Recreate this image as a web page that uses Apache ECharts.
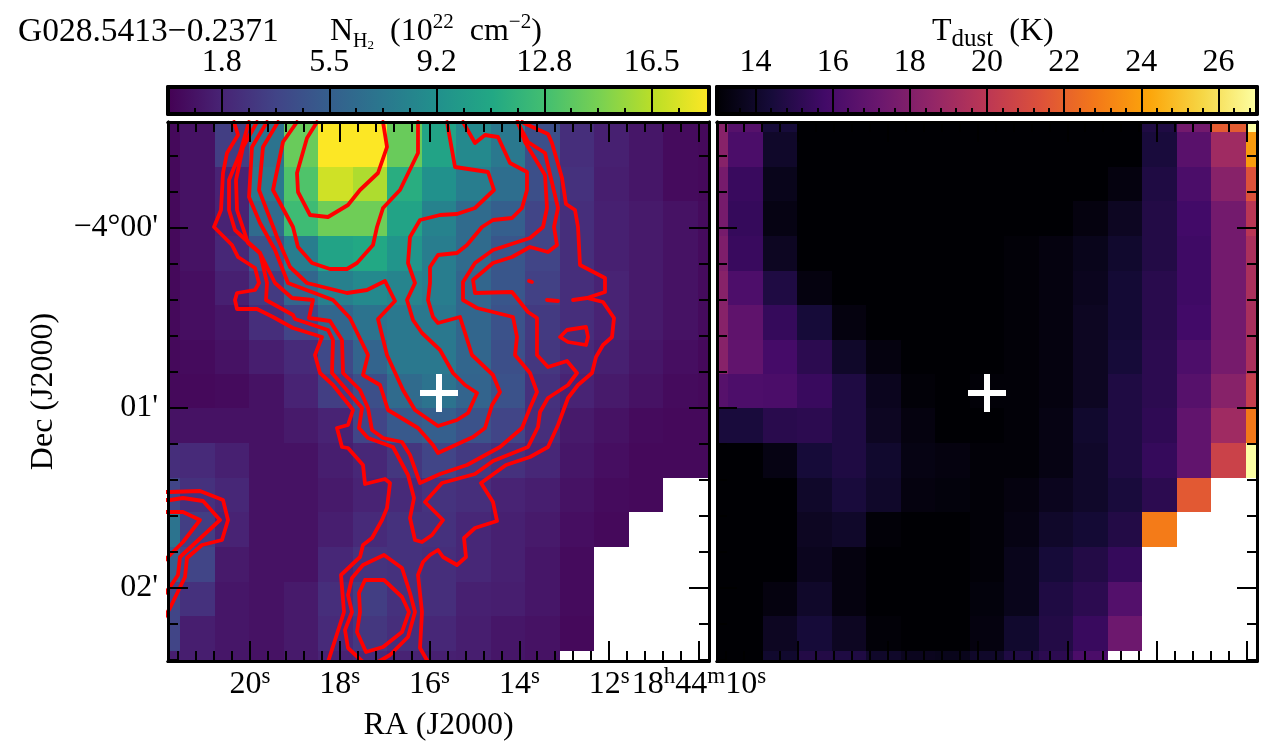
<!DOCTYPE html>
<html><head><meta charset="utf-8">
<style>html,body{margin:0;padding:0;background:#fff}#c{width:1272px;height:753px}</style>
<script src="https://cdn.jsdelivr.net/npm/echarts@6/dist/echarts.min.js"></script>
</head><body><div id="c"></div>
<script>
// Sky offsets are in units of 1/3 arcsec from RA 18h44m20s, Dec -04d00m (x grows to the west, y to the north).
const raEdges  = [-82,-70,-35,-1,34,68,103,137,172,206,241,275,310,344,379,413,448,459];
const decEdges = [106,96,61,27,-8,-43,-77,-112,-146,-180,-215,-250,-284,-319,-354,-388,-423,-433];
const _ = null;
const nh2 = [
 [.4,.9,3.3,7,14.1,18.3,18.3,14.1,10.6,8.6,7.3,4.4,2.4,1.6,1.1,.5,.4],
 [.4,.9,3.3,7,14.1,18.3,18.3,14.1,10.6,8.6,7.3,4.4,2.4,1.6,1.1,.5,.4],
 [.4,.9,1.8,7.3,13.2,17,16.1,11.4,9.2,7.7,6.6,4.4,2.6,1.5,1.1,.5,.4],
 [.4,.9,1.8,6.4,12.5,14.3,14.3,10.6,8.1,6.4,5.5,3.7,2.4,1.6,1.3,.9,.5],
 [.4,.9,2,4.6,7.7,10.6,11,9.5,7.7,6.4,4.9,3.7,2.4,1.6,1.3,.9,.5],
 [.4,.7,1.6,3.1,6,7.9,8.6,8.2,7.7,6,4.9,3.5,2.4,1.8,1.3,.9,.5],
 [.4,.7,1.1,2.4,3.7,6,7,7.3,7.3,6,4.6,3.1,2.4,1.8,1.3,.9,.5],
 [.4,.5,.9,1.5,2.2,4,5.9,7.3,7.3,6,4.4,2.9,2.2,1.6,1.1,.7,.4],
 [.4,.4,.5,.9,1.8,3.3,4.4,6.4,7,5.9,4.6,2.6,1.8,1.3,.9,.5,.4],
 [.9,.9,.9,.9,1.3,1.8,3.7,5.1,5.5,4.6,3.7,2.4,1.3,.9,.5,.4,.4],
 [2.4,2.2,1.6,.9,.9,1.5,2,2.9,3.7,3.1,2.6,2,1.1,.7,.4,.4,.4],
 [3.7,2.6,2,.9,.9,1.3,1.8,2.2,2.7,2.4,1.8,1.5,.9,.5,.4,_,_],
 [7,3.3,1.8,.9,.9,1.5,2.2,2.6,2.6,2,1.6,1.3,.7,.4,_,_,_],
 [5.5,3.7,1.3,.9,.9,2,2.7,2.6,2.4,2,1.6,1.1,.5,_,_,_,_],
 [3.7,2.6,1.1,.9,1.3,2.4,3.3,2.6,2.4,1.6,1.5,1.1,.5,_,_,_,_],
 [3.7,1.5,1.1,.9,1.3,2.2,2.9,2.4,2,1.5,1.1,.9,.4,_,_,_,_],
 [1.5,1.5,1.1,.9,1.3,1.8,2.2,1.8,1.6,1.5,1.1,.9,_,_,_,_,_]
];
const tdust = [
 [18.2,16.5,14.4,13,13,13,13,13,13,13,13,13,13,14.7,17.5,21.8,27],
 [18.2,16.1,14,13,13,13,13,13,13,13,13,13,13,14.5,16.6,19,23.9],
 [17.6,15.5,13.6,13,13,13,13,13,13,13,13,13,13.3,14.7,16.1,18.2,21.4],
 [17.6,15.4,13.4,13,13,13,13,13,13,13,13,13.3,13.8,14.8,15.8,17.5,19.9],
 [17.9,15.5,13.8,13,13,13,13,13,13,13.1,13.3,13.6,14.1,14.8,15.7,17.5,19.4],
 [18.2,16.2,14.7,13.3,13,13,13,13,13,13.1,13.3,13.7,14.3,15,15.7,17.5,19.4],
 [18.2,16.8,15.4,14.4,13.3,13,13,13,13,13.1,13.3,13.8,14.3,15,15.8,17.5,19.3],
 [18.2,16.9,15.9,15.1,14,13.3,13,13,13,13.1,13.3,13.8,14.4,15.1,16.2,17.6,19.4],
 [16.5,16.2,16.1,15.5,14.7,13.7,13.1,13,13.1,13.1,13.3,13.8,14.7,15.1,16.5,18.2,20.4],
 [14.5,14.5,15,15.1,14.7,13.8,13.3,13,13,13.1,13.4,14.1,14.7,15.2,16.9,19,22.8],
 [13,13,13.4,14.4,14.7,14.1,13.4,13.3,13.1,13.1,13.4,14,14.7,15.4,16.9,20.6,27],
 [13,13,13,14,14.5,14,13.3,13.2,13.1,13.3,13.7,14,14.5,15.1,21.7,_,_],
 [13,13,13,13.8,14,13.1,13,13,13.1,13.4,14,14.3,14.8,22.9,_,_,_],
 [13,13,13,13.7,13.3,13,13,13,13.1,13.6,14.4,14.8,15.4,_,_,_,_],
 [13,13,13.3,14,13.3,13,13,13,13.2,13.6,14.7,15.1,16.4,_,_,_,_],
 [13,13,13.8,14.4,13.8,13.1,13,13,13.3,14.1,14.8,15.5,17.3,_,_,_,_],
 [13,13,14.1,14.8,14.7,14,13.7,13.6,14,14.7,15.1,16.1,_,_,_,_,_]
];
const level1a = [[-16,106],[-12,93],[-23,75],[-27,55],[-29,18],[-36,1],[-18,-17],[-12,-29],[5,-40],[9,-55],[5,-62],[-13,-65],[-15,-72],[-13,-81],[7,-81],[23,-89],[43,-100],[72,-109],[65,-127],[70,-145],[83,-157],[103,-182],[98,-197],[87,-200],[92,-219],[98,-220],[113,-237],[115,-256],[135,-251],[140,-255],[137,-280],[132,-292],[122,-310],[113,-317],[110,-329],[91,-347],[94,-384],[78,-434]];
const level1b = [[178,-434],[170,-420],[172,-384],[168,-347],[173,-334],[180,-327],[188,-322],[193,-329],[207,-337],[216,-329],[214,-310],[225,-300],[247,-293],[243,-274],[231,-255],[256,-237],[280,-229],[298,-219],[308,-197],[318,-170],[328,-157],[342,-145],[346,-129],[353,-117],[362,-109],[364,-90],[353,-74],[337,-70],[355,-64],[355,-50],[330,-37],[328,1],[325,18],[316,24],[312,50],[302,85],[298,94],[278,103],[272,106]];
const level1c = [[310,-109],[317,-102],[336,-99],[338,-109],[336,-117],[318,-114],[310,-109]];
const level1d = [[279,-53],[282,-54]];
const level1e = [[297,-72],[308,-73]];
const level1f = [[323,-72],[337,-70]];
const level2 = [[-1,106],[-10,75],[-21,48],[-21,18],[-15,-2],[10,-25],[17,-55],[16,-72],[43,-87],[45,-91],[78,-102],[83,-112],[82,-145],[95,-160],[112,-180],[109,-200],[118,-210],[143,-219],[158,-247],[164,-270],[160,-290],[165,-312],[172,-314],[182,-307],[193,-292],[175,-274],[192,-255],[225,-246],[243,-233],[278,-219],[288,-199],[290,-184],[298,-170],[318,-157],[327,-145],[317,-133],[298,-139],[287,-127],[287,-90],[278,-84],[262,-64],[225,-65],[223,-52],[243,-35],[262,-29],[280,-19],[298,-24],[307,-17],[304,1],[308,20],[295,75],[278,86],[270,101],[267,106]];
const level3 = [[7,106],[-7,81],[-14,48],[-13,18],[-2,-15],[10,-25],[25,-55],[42,-70],[63,-72],[59,-90],[80,-93],[92,-112],[93,-145],[110,-162],[118,-180],[122,-202],[133,-210],[152,-214],[160,-227],[170,-255],[190,-246],[217,-237],[250,-219],[272,-200],[280,-180],[287,-164],[280,-145],[265,-127],[267,-109],[263,-89],[227,-80],[213,-72],[213,-54],[225,-35],[243,-22],[280,-10],[293,1],[297,20],[295,53],[275,86],[268,106]];
const level4 = [[17,106],[2,81],[-1,31],[10,5],[25,-22],[38,-55],[83,-72],[100,-90],[118,-127],[113,-147],[130,-157],[138,-182],[168,-200],[183,-217],[188,-225],[223,-209],[235,-200],[242,-177],[250,-164],[243,-147],[222,-127],[210,-89],[188,-95],[183,-89],[178,-72],[180,-55],[180,-39],[188,-27],[207,-25],[217,-17],[232,1],[243,8],[262,10],[272,20],[277,38],[277,56],[260,65],[248,91],[235,93],[225,85],[213,106]];
const level5 = [[28,106],[13,81],[9,38],[27,-9],[40,-39],[57,-55],[97,-65],[117,-62],[135,-53],[145,-73],[128,-91],[137,-127],[153,-162],[165,-182],[188,-198],[207,-192],[218,-185],[227,-165],[215,-157],[203,-145],[190,-122],[172,-105],[163,-92],[157,-72],[165,-55],[158,-35],[160,-9],[170,8],[190,13],[207,14],[225,20],[244,38],[238,56],[205,61],[197,106]];
const level6 = [[47,106],[33,86],[23,38],[43,1],[48,-19],[62,-35],[80,-41],[97,-41],[107,-35],[123,-17],[127,1],[133,20],[150,38],[168,75],[168,106]];
const level7 = [[67,106],[57,90],[47,55],[48,36],[60,13],[78,11],[98,23],[110,38],[128,55],[137,81],[133,106]];
const blobA = [[-90,-264],[-80,-264],[-50,-263],[-27,-272],[-22,-292],[-28,-312],[-48,-317],[-63,-330],[-65,-349],[-80,-380],[-90,-397]];
const blobB = [[-90,-272],[-80,-272],[-67,-270],[-47,-273],[-30,-292],[-70,-329],[-72,-347],[-80,-359],[-90,-372]];
const blobC = [[-90,-284],[-80,-284],[-67,-284],[-50,-292],[-67,-314],[-80,-327],[-90,-337]];
const southA = [[113,-434],[98,-420],[95,-402],[102,-384],[98,-367],[102,-350],[113,-337],[134,-327],[152,-340],[160,-365],[165,-384],[158,-409],[140,-427],[128,-434]];
const southB = [[115,-352],[134,-352],[152,-369],[159,-384],[152,-404],[133,-419],[116,-424],[107,-404],[110,-384],[109,-365],[115,-352]];
const contours = [level1a,level1b,level1c,level1d,level1e,level1f,level2,level3,level4,level5,level6,level7,blobA,blobB,blobC,southA,southB];
const sourcePos = [[189,-165]];
const raMajor = [0,89.8,179.6,269.4,359.2,449];
const raLabels = ['{n|20}{s|s}','{n|18}{s|s}','{n|16}{s|s}','{n|14}{s|s}','{n|12}{s|s}','{n|18}{s|h}{n|44}{s|m}{n|10}{s|s}'];
const raMinor = [-72,-54,-36,-18,18,36,54,72,108,126,144,162,198,216,234,252,287,305,323,341,377,395,413,431];
const decMajor = [0,-180,-360];
const decLabels = ["\u22124\u00b000'","01'","02'"];
const decMinor = [72,36,-36,-72,-108,-144,-216,-252,-288,-324,-396,-432];
const nh2Ticks = [1.833,5.5,9.167,12.833,16.5];
const nh2Labels = ['1.8','5.5','9.2','12.8','16.5'];
const nh2Minor = [.917,2.75,3.667,4.583,6.417,7.333,8.25,10.083,11,11.917,13.75,14.667,15.583,17.417];
const tTicks = [14,16,18,20,22,24,26];
const tMinor = [13.6,14.4,14.8,15.2,15.6,16.4,16.8,17.2,17.6,18.4,18.8,19.2,19.6,20.4,20.8,21.2,21.6,22.4,22.8,23.2,23.6,24.4,24.8,25.2,25.6,26.4,26.8];
const viridis = ['#440154','#482475','#414487','#355f8d','#2a788e','#21918c','#22a884','#44bf70','#7ad151','#bddf26','#fde725'];
const inferno = ['#000004','#160b39','#420a68','#6a176e','#932667','#bc3754','#dd513a','#f37819','#fca50a','#f6d746','#fcffa4'];

const FONT = 'Liberation Serif';
const FS = 32, FS_SMALL = 23;
const xAxes = [], yAxes = [];
function addAxis(list, o){
  const base = {type:'value', gridIndex:o.grid, min:o.min, max:o.max, position:o.pos, z:10, scale:true,
    splitLine:{show:false},
    axisLine:{show:true, onZero:false, lineStyle:{color:'#000', width:o.lw||3}},
    axisTick:{show:true, inside:true, length:o.len, customValues:o.ticks, lineStyle:{color:'#000', width:2}},
    axisLabel: o.labels ? {show:true, customValues:o.ticks, margin:o.margin, color:'#000', fontFamily:FONT, fontSize:FS, fontWeight:'normal',
      hideOverlap:false, showMinLabel:true, showMaxLabel:true,
      formatter:v=>{const i=o.ticks.findIndex(t=>Math.abs(t-v)<1e-6);return i<0?'':o.labels[i];}, rich:o.rich} : {show:false}};
  if(o.name){ base.name=o.name; base.nameLocation='middle'; base.nameGap=o.nameGap;
    base.nameTextStyle={fontFamily:FONT,fontSize:FS,fontWeight:'normal',color:'#000'}; }
  list.push(base); return list.length-1;
}
const sup = {n:{fontSize:FS,fontFamily:FONT,color:'#000',lineHeight:36,verticalAlign:'bottom'},
             s:{fontSize:FS_SMALL,fontFamily:FONT,color:'#000',lineHeight:36,verticalAlign:'top',padding:[0,0,14,0]}};
function mapPanel(g, xmin, labelled){
  const R=[xmin,459], D=[-433,106];
  const xi = addAxis(xAxes,{grid:g,min:R[0],max:R[1],pos:'bottom',ticks:raMajor,len:20,labels:labelled?raLabels:null,margin:4,rich:sup,name:labelled?'RA (J2000)':null,nameGap:49});
  addAxis(xAxes,{grid:g,min:R[0],max:R[1],pos:'top',ticks:raMajor,len:20});
  addAxis(xAxes,{grid:g,min:R[0],max:R[1],pos:'bottom',ticks:raMinor,len:10});
  addAxis(xAxes,{grid:g,min:R[0],max:R[1],pos:'top',ticks:raMinor,len:10});
  const yi = addAxis(yAxes,{grid:g,min:D[0],max:D[1],pos:'left',ticks:decMajor,len:20,labels:labelled?decLabels:null,margin:10,name:labelled?'Dec (J2000)':null,nameGap:108});
  addAxis(yAxes,{grid:g,min:D[0],max:D[1],pos:'right',ticks:decMajor,len:20});
  addAxis(yAxes,{grid:g,min:D[0],max:D[1],pos:'left',ticks:decMinor,len:10});
  addAxis(yAxes,{grid:g,min:D[0],max:D[1],pos:'right',ticks:decMinor,len:10});
  return [xi,yi];
}
function barPanel(g, lo, hi, major, labels, minor){
  const xi = addAxis(xAxes,{grid:g,min:lo,max:hi,pos:'top',ticks:major,len:28,labels,margin:8,lw:4});
  addAxis(xAxes,{grid:g,min:lo,max:hi,pos:'bottom',ticks:minor,len:6,lw:4});
  const yi = addAxis(yAxes,{grid:g,min:0,max:1,pos:'left',ticks:[],len:0,lw:4});
  addAxis(yAxes,{grid:g,min:0,max:1,pos:'right',ticks:[],len:0,lw:4});
  return [xi,yi];
}
function cellData(grid){
  const out=[];
  grid.forEach((row,r)=>row.forEach((v,c)=>{ if(v!==null) out.push([raEdges[c],raEdges[c+1],decEdges[r],decEdges[r+1],v]); }));
  return out;
}
function renderCell(p,api){
  const a=api.coord([api.value(0),api.value(2)]), b=api.coord([api.value(1),api.value(3)]);
  const cs=p.coordSys;
  const x0=Math.max(Math.round(a[0]),cs.x), x1=Math.min(Math.round(b[0]),cs.x+cs.width);
  const y0=Math.max(Math.round(a[1]),cs.y), y1=Math.min(Math.round(b[1]),cs.y+cs.height);
  return {type:'rect',shape:{x:x0,y:y0,width:x1-x0,height:y1-y0},style:{fill:api.visual('color')}};
}
const gradFill = stops => new echarts.graphic.LinearGradient(0,0,1,0,stops.map((c,i)=>({offset:i/(stops.length-1),color:c})));
function renderBar(stops){ return (p,api)=>{
  const a=api.coord([api.value(0),1]), b=api.coord([api.value(1),0]);
  return {type:'rect',shape:{x:a[0],y:a[1],width:b[0]-a[0],height:b[1]-a[1]},style:{fill:gradFill(stops)}};
};}
const A = mapPanel(0,-82,true);
const B = mapPanel(1,-81,false);
const CA = barPanel(2,0,18.45,nh2Ticks,nh2Labels,nh2Minor);
const CB = barPanel(3,13,27,tTicks,tTicks.map(String),tMinor);

const series = [];
function cellSeries(ax,grid){ series.push({type:'custom',xAxisIndex:ax[0],yAxisIndex:ax[1],renderItem:renderCell,encode:{x:[0,1],y:[2,3]},data:cellData(grid),z:2,silent:true}); return series.length-1; }
const sA = cellSeries(A,nh2);
const sB = cellSeries(B,tdust);
contours.forEach(c=>series.push({type:'line',xAxisIndex:A[0],yAxisIndex:A[1],data:c,symbol:'none',clip:true,z:4,silent:true,
  lineStyle:{color:'#ff0000',width:3.8,cap:'round',join:'round'}}));
const plusPath='path://M16 0H22V16H38V22H22V38H16V22H0V16H16Z';
[A,B].forEach(ax=>series.push({type:'scatter',xAxisIndex:ax[0],yAxisIndex:ax[1],data:sourcePos,symbol:plusPath,symbolSize:38,itemStyle:{color:'#fff',opacity:1},z:6,silent:true,clip:false}));
function panelTag(ax,pos,txt){ series.push({type:'scatter',xAxisIndex:ax[0],yAxisIndex:ax[1],data:[pos],symbolSize:1,itemStyle:{opacity:0},z:6,silent:true,
  label:{show:true,position:'inside',formatter:txt,color:'#fff',fontFamily:FONT,fontSize:29}}); }
panelTag(A,[-24,51],'(a)');
panelTag(B,[-23,52],'(b)');
series.push({type:'custom',xAxisIndex:CA[0],yAxisIndex:CA[1],renderItem:renderBar(viridis),encode:{x:[0,1]},data:[[0,18.45]],z:2,silent:true});
series.push({type:'custom',xAxisIndex:CB[0],yAxisIndex:CB[1],renderItem:renderBar(inferno),encode:{x:[0,1]},data:[[13,27]],z:2,silent:true});

const W = {fontWeight:'normal',fontFamily:FONT,color:'#000',lineHeight:40};
const tRich = {
  g:{...W,fontSize:33.5,verticalAlign:'middle'},
  b:{...W,fontSize:FS,verticalAlign:'middle'},
  up:{...W,fontSize:21,verticalAlign:'top',padding:[0,0,14,0]},
  lo:{...W,fontSize:20,verticalAlign:'bottom',padding:[10,0,0,0]},
  lo2:{...W,fontSize:13,verticalAlign:'bottom',padding:[6,0,0,0]},
  lo3:{...W,fontSize:25,verticalAlign:'bottom',padding:[8,0,0,0]}
};
const tStyle = {fontWeight:'normal',rich:tRich};
const titles = [
 {left:13,top:7,text:'{g|G028.5413\u22120.2371}',textStyle:tStyle},
 {left:325,top:7,text:'{b|N}{lo|H}{lo2|2}{b|  (10}{up|22}{b|  cm}{up|\u22122}{b|)}',textStyle:tStyle},
 {left:927,top:7,text:'{b|T}{lo3|dust}{b|  (K)}',textStyle:tStyle}
];
const chart = echarts.init(document.getElementById('c'),null,{renderer:'canvas'});
chart.setOption({
  animation:false, backgroundColor:'#fff',
  title:titles,
  grid:[
   {left:168,top:122,width:541,height:539,outerBoundsMode:'none'},
   {left:717,top:122,width:540,height:539,outerBoundsMode:'none'},
   {left:168,top:87,width:541,height:27,outerBoundsMode:'none'},
   {left:717,top:87,width:540,height:27,outerBoundsMode:'none'}
  ],
  xAxis:xAxes, yAxis:yAxes,
  visualMap:[
   {show:false,type:'continuous',min:0,max:18.33,dimension:4,seriesIndex:sA,inRange:{color:viridis}},
   {show:false,type:'continuous',min:13,max:27,dimension:4,seriesIndex:sB,inRange:{color:inferno}}
  ],
  series
});
</script></body></html>
